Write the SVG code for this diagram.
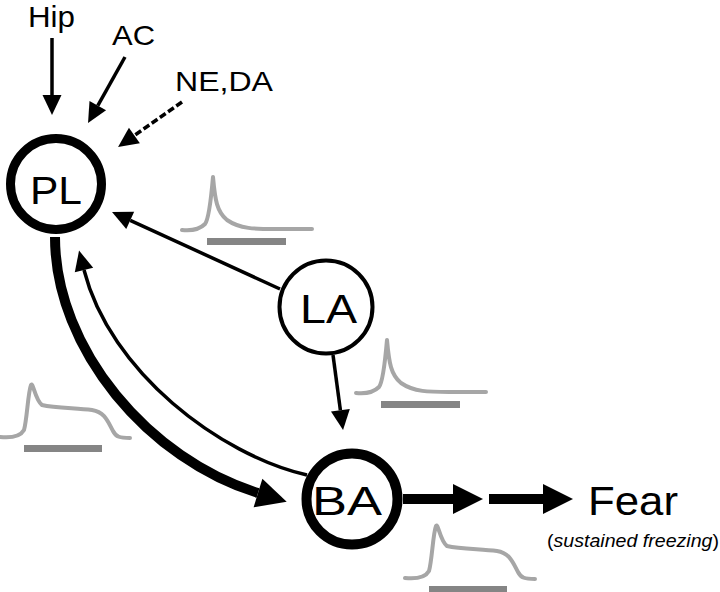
<svg xmlns="http://www.w3.org/2000/svg" width="720" height="592" viewBox="0 0 720 592">
<style>
text { font-family: "Liberation Sans", Arial, sans-serif; fill: #000; }
.node { fill: #fff; stroke: #000; }
.thin { fill: none; stroke: #000; stroke-width: 3.5; }
.thick { fill: none; stroke: #000; stroke-width: 10; }
.trace { fill: none; stroke: #a6a6a6; stroke-width: 4; stroke-linecap: round; stroke-linejoin: round; }
.bar { fill: #858585; }
</style>
<defs>
<marker id="head" markerUnits="userSpaceOnUse" orient="auto" refX="0" refY="0" markerWidth="30" markerHeight="30" overflow="visible">
<path d="M0,-9.5 L20,0 L0,9.5 z" fill="#000"/>
</marker>
<marker id="bighead" markerUnits="userSpaceOnUse" orient="auto" refX="0" refY="0" markerWidth="40" markerHeight="40" overflow="visible">
<path d="M0,-15 L30,0 L0,15 z" fill="#000"/>
</marker>
<g id="phasic">
<path class="trace" d="M182,230 C192,231 200,229 205,224 C209,219 211,200 213,177 C215,200 217,212 227,220 C240,229 255,229 275,229 L312,229"/>
<rect class="bar" x="207" y="238" width="79" height="7"/>
</g>
<g id="sustained">
<path class="trace" d="M0,437 C10,438 20,437 24,430 C27,420 28,392 31,385 C33,381 35,400 42,405 C55,408 75,408 92,410 C105,412 108,422 113,431 C116,437 120,438 130,438"/>
<rect class="bar" x="24" y="445" width="78" height="7"/>
</g>
</defs>

<g id="connectors">
<line class="thin" x1="52" y1="38" x2="52" y2="95" marker-end="url(#head)"/>
<line class="thin" x1="125" y1="57" x2="97.8" y2="105.6" marker-end="url(#head)"/>
<line class="thin" x1="182" y1="102" x2="134.4" y2="135.5" stroke-dasharray="7,3" marker-end="url(#head)"/>
<line class="thin" x1="280" y1="289" x2="130.2" y2="220.3" marker-end="url(#head)"/>
<line class="thin" x1="333" y1="355" x2="340.4" y2="410.2" marker-end="url(#head)"/>
<path class="thin" stroke-width="4" d="M307,475 C220,455 110,372 84,270" marker-end="url(#head)"/>
<path class="thick" d="M55,237 C55,350 150,460 258,493" marker-end="url(#bighead)"/>
<line class="thick" x1="403" y1="499" x2="453" y2="499" marker-end="url(#bighead)"/>
<line class="thick" x1="489" y1="499" x2="543" y2="499" marker-end="url(#bighead)"/>
</g>

<g id="traces">
<use href="#phasic"/>
<use href="#phasic" transform="translate(174,163)"/>
<use href="#sustained"/>
<use href="#sustained" transform="translate(405,141)"/>
</g>

<g id="Hip"><text x="28" y="27" font-size="29" textLength="47" lengthAdjust="spacingAndGlyphs">Hip</text></g>
<g id="AC"><text x="112" y="45" font-size="28" textLength="43" lengthAdjust="spacingAndGlyphs">AC</text></g>
<g id="NE_DA"><text x="175" y="91" font-size="27" textLength="98" lengthAdjust="spacingAndGlyphs">NE,DA</text></g>

<g id="PL">
<circle class="node" cx="56" cy="184" r="45.5" stroke-width="9"/>
<text x="30" y="204" font-size="38" textLength="52" lengthAdjust="spacingAndGlyphs">PL</text>
</g>
<g id="LA">
<circle class="node" cx="326" cy="307" r="46.5" stroke-width="4"/>
<text x="300" y="323" font-size="41" textLength="57" lengthAdjust="spacingAndGlyphs">LA</text>
</g>
<g id="BA">
<circle class="node" cx="352" cy="499" r="45.5" stroke-width="10"/>
<text x="312" y="515" font-size="40" textLength="70" lengthAdjust="spacingAndGlyphs">BA</text>
</g>
<g id="Fear">
<text x="588" y="515" font-size="40" textLength="90" lengthAdjust="spacingAndGlyphs">Fear</text>
<text x="547" y="547" font-size="18.5" textLength="172" lengthAdjust="spacingAndGlyphs">(<tspan font-style="italic">sustained freezing</tspan>)</text>
</g>
</svg>
